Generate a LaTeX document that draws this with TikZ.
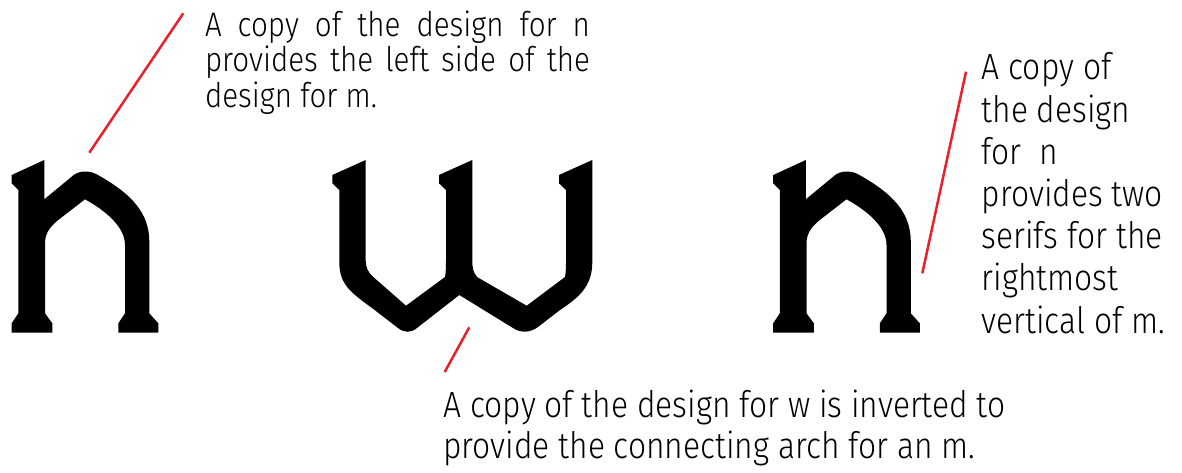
\documentclass[tikz,border=0pt]{standalone}
\usepackage{fontspec}
\setmainfont{Fira Sans Light}[FakeStretch=0.87]
\definecolor{leadred}{RGB}{232,32,42}
\newcommand{\leadtext}[4]{\parbox[t]{#1}{\fontsize{#2}{#3}\selectfont\raggedright #4}}
\begin{document}
\begin{tikzpicture}[x=1pt,y=-1pt,
  glyph/.style={fill=black},
  leader/.style={draw=leadred,line width=2.5pt},
  lbl/.style={inner sep=0pt,outer sep=0pt,anchor=base west,text=black},
  nglyph/.pic={
    \fill (11.7,175) -- (44.3,160) -- (44.3,199.3) -- (74,174.8)
      .. controls (80,170.5) and (90,170.5) .. (97,174.5)
      .. controls (132,194) and (149.3,213) .. (149.3,242)
      -- (149.3,313.3) -- (158.3,323.3) -- (158.3,332.7) -- (118.3,332.7)
      -- (118.3,323.3) -- (125,313.3) -- (125,245)
      .. controls (125,228) and (108,212) .. (85,199.3)
      -- (57,221) .. controls (49,228) and (45,234) .. (45,244)
      -- (45,313.3) -- (52.3,323.3) -- (52.3,332.7) -- (11.7,332.7)
      -- (11.7,323.3) -- (18.3,313.3) -- (18.3,190) -- (11.7,183.3) -- cycle;
  }]
\useasboundingbox (0,0) rectangle (1182,473);

% glyphs
\pic (n1) at (0,0) {nglyph};
\pic (n2) at (761.5,0) {nglyph};
\fill[glyph] (332.3,175) -- (365.7,160) -- (365.7,260)
  .. controls (365.7,268) and (368,272) .. (373.3,277) -- (406,305.7) -- (445,277)
  .. controls (446,272) and (446,266) .. (446,260) -- (446,190) -- (439,183.3)
  -- (439,175) -- (472.3,160) -- (472.3,260)
  .. controls (472.3,268) and (473,272) .. (477,277) -- (526.7,305.7) -- (565,277)
  .. controls (566,272) and (566,266) .. (566,260) -- (566,190) -- (559,183.3)
  -- (559,175) -- (592.3,160) -- (592.3,262)
  .. controls (592.3,287) and (578,298) .. (560,310) -- (538,327)
  .. controls (530,333) and (520,333) .. (513,328) -- (459.3,295) -- (417,328)
  .. controls (411,333) and (404,333) .. (398,328) -- (372,308)
  .. controls (350,292) and (339.3,284) .. (339.3,262) -- (339.3,190)
  -- (332.3,183.3) -- cycle;

% texts
\node[lbl] (ttop) at (205,36.7) {\leadtext{420pt}{34}{35.3pt}{%
  \makebox[385pt][s]{A copy of the design for n}\\
  \makebox[385pt][s]{provides the left side of the}\\
  design for m.}};
\node[lbl] (tright) at (981.7,80) {\leadtext{200pt}{36.5}{42.2pt}{%
  A copy of\\ the design\\ for\ \ n\\ provides two\\ serifs for the\\ rightmost\\ vertical of m.}};
\node[lbl] (tbottom) at (443.3,417.3) {\leadtext{700pt}{36.5}{41pt}{%
  A copy of the design for w is inverted to\\
  provide the connecting arch for an m.}};

% leader lines
\coordinate (a1) at (183.3,13.3);
\coordinate (b1) at (89.3,152.7);
\coordinate (a2) at (966,71.7);
\coordinate (b2) at (922.3,273.3);
\coordinate (a3) at (444.7,372);
\coordinate (b3) at (469.3,327.3);
\draw[leader] (a1) -- (b1);
\draw[leader] (a2) -- (b2);
\draw[leader] (a3) -- (b3);
\end{tikzpicture}
\end{document}
